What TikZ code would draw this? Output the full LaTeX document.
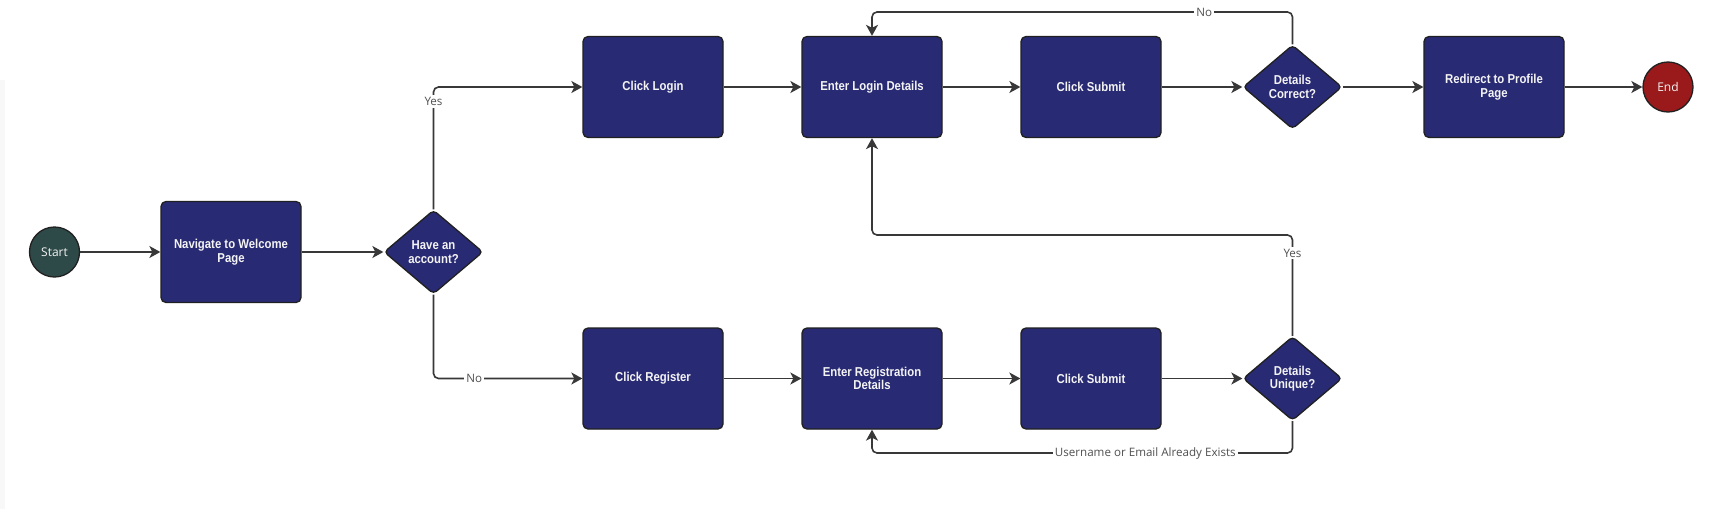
\documentclass[tikz,border=0pt]{standalone}
\usepackage{fontspec}
\usetikzlibrary{arrows.meta,shapes.geometric}
\newfontfamily\boxfont{Liberation Sans}[FakeStretch=0.88]
\newfontfamily\lblfont{Open Sans}
\definecolor{navy}{HTML}{282A74}
\definecolor{bordc}{HTML}{202020}
\definecolor{linec}{HTML}{383838}
\definecolor{startc}{HTML}{2E4A48}
\definecolor{endc}{HTML}{9A1A1C}
\definecolor{lblc}{HTML}{505050}
\definecolor{txtc}{HTML}{F4F4F4}
\definecolor{stripc}{HTML}{F8F8F8}
\tikzset{
  proc/.style={draw=bordc, line width=1.3pt, fill=navy, rounded corners=5pt,
    minimum width=140pt, minimum height=101pt, inner sep=2pt, align=center,
    text=txtc, font=\boxfont\bfseries\fontsize{12.9}{13.6}\selectfont},
  decision/.style={diamond, draw=bordc, line width=1.3pt, fill=navy, rounded corners=4pt,
    minimum width=99pt, minimum height=84pt, aspect=1.18, inner sep=0pt, align=center,
    text=txtc, font=\boxfont\bfseries\fontsize{12.9}{13.6}\selectfont},
  terminal/.style={circle, draw=bordc, line width=1.3pt, minimum size=50pt, inner sep=0pt,
    text=txtc, font=\lblfont\fontsize{12}{13}\selectfont},
  arr/.style={draw=linec, line width=1.6pt, rounded corners=5pt,
    -{Stealth[length=11pt,width=12pt,inset=3pt]}},
  lbl/.style={fill=white, inner sep=2pt, text=lblc, rounded corners=0pt,
    font=\lblfont\fontsize{11.6}{13}\selectfont}
}
\begin{document}
\begin{tikzpicture}[x=1pt,y=-1pt]
\useasboundingbox[fill=white] (0,0) rectangle (1729,509);
\fill[stripc] (0,80) rectangle (5,509);

\node[terminal, fill=startc] (start) at (54.5,252) {Start};
\node[proc] (nav) at (231,252) {Navigate to Welcome\\Page};
\node[decision] (acc) at (433.5,252) {Have an\\account?};
\node[proc] (login) at (653,87) {Click Login};
\node[proc] (eld) at (872,87) {Enter Login Details};
\node[proc] (sub1) at (1091,87) {Click Submit};
\node[decision] (dc) at (1292.5,87) {Details\\Correct?};
\node[proc] (redir) at (1494,87) {Redirect to Profile\\Page};
\node[terminal, fill=endc] (end) at (1668,87) {End};
\node[proc] (reg) at (653,378.5) {Click Register};
\node[proc] (erd) at (872,378.5) {Enter Registration\\Details};
\node[proc] (sub2) at (1091,378.5) {Click Submit};
\node[decision] (du) at (1292.5,378.5) {Details\\Unique?};
\coordinate (topy) at (1292.5,12);
\coordinate (midy) at (1292.5,235);
\coordinate (boty) at (1292.5,453);

\draw[arr] (start) -- (nav);
\draw[arr] (nav) -- (acc);
\draw[arr] (acc.north) |- node[lbl,pos=0.44]{Yes} (login.west);
\draw[arr] (acc.south) |- node[lbl,pos=0.637]{No} (reg.west);
\draw[arr] (login) -- (eld);
\draw[arr] (eld) -- (sub1);
\draw[arr] (sub1) -- (dc);
\draw[arr] (dc) -- (redir);
\draw[arr] (redir) -- (end);
\draw[arr] (reg) -- (erd);
\draw[arr] (erd) -- (sub2);
\draw[arr] (sub2) -- (du);
\draw[arr] (dc.north) -- (topy) -| node[lbl,pos=0.105]{No} (eld.north);
\draw[arr] (du.north) -- node[lbl,pos=0.82]{Yes} (midy) -| (eld.south);
\draw[arr] (du.south) -- (boty) -| node[lbl,pos=0.175]{Username or Email Already Exists} (erd.south);
\end{tikzpicture}
\end{document}
